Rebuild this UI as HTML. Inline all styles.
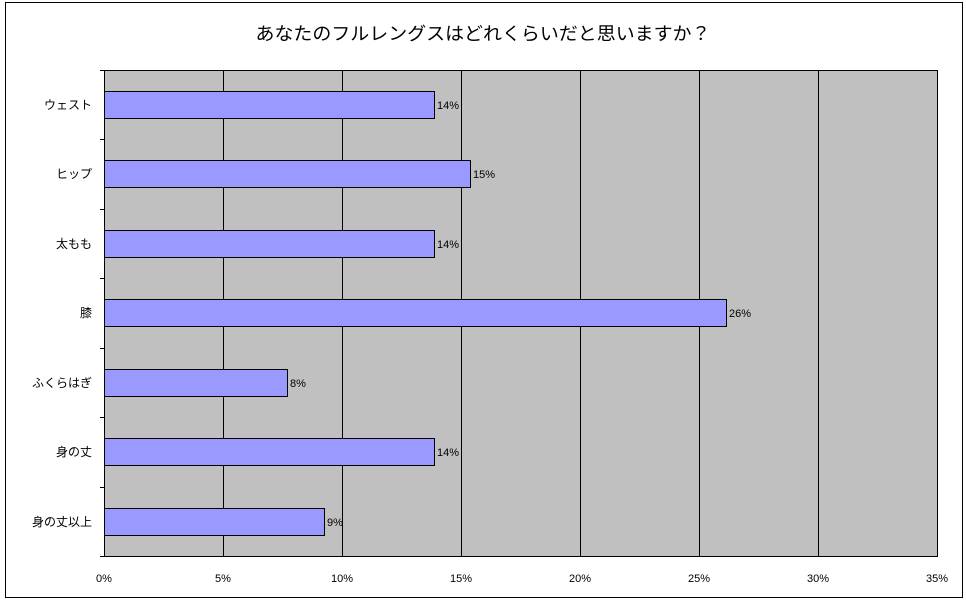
<!DOCTYPE html>
<html><head><meta charset="utf-8"><style>body{margin:0;background:#fff}svg{display:block}</style></head><body>
<svg width="966" height="603" xmlns="http://www.w3.org/2000/svg" font-family="'Liberation Sans','Noto Sans CJK JP',sans-serif">
<rect x="5.5" y="2.5" width="957" height="595" fill="#fff" stroke="#000"/>
<text x="483" y="40" font-size="18" text-anchor="middle" textLength="455" lengthAdjust="spacingAndGlyphs">あなたのフルレングスはどれくらいだと思いますか？</text>
<rect x="104.5" y="70.5" width="833" height="486" fill="#c0c0c0" stroke="#000"/>
<g stroke="#000">
<line x1="223.5" y1="70" x2="223.5" y2="556"/><line x1="342.5" y1="70" x2="342.5" y2="556"/><line x1="461.5" y1="70" x2="461.5" y2="556"/><line x1="580.5" y1="70" x2="580.5" y2="556"/><line x1="699.5" y1="70" x2="699.5" y2="556"/><line x1="818.5" y1="70" x2="818.5" y2="556"/>
<line x1="100" y1="70.5" x2="104" y2="70.5"/><line x1="100" y1="139.5" x2="104" y2="139.5"/><line x1="100" y1="209.5" x2="104" y2="209.5"/><line x1="100" y1="278.5" x2="104" y2="278.5"/><line x1="100" y1="348.5" x2="104" y2="348.5"/><line x1="100" y1="417.5" x2="104" y2="417.5"/><line x1="100" y1="487.5" x2="104" y2="487.5"/><line x1="100" y1="556.5" x2="104" y2="556.5"/>
</g>
<g fill="#9999ff" stroke="#000">
<rect x="104.5" y="91.5" width="330" height="27"/>
<rect x="104.5" y="160.5" width="366" height="27"/>
<rect x="104.5" y="230.5" width="330" height="27"/>
<rect x="104.5" y="299.5" width="622" height="27"/>
<rect x="104.5" y="369.5" width="183" height="27"/>
<rect x="104.5" y="438.5" width="330" height="27"/>
<rect x="104.5" y="508.5" width="220" height="27"/>
</g>
<g font-size="11">
<text x="437" y="109">14%</text><text x="473" y="178">15%</text><text x="437" y="248">14%</text><text x="729" y="317">26%</text><text x="290" y="387">8%</text><text x="437" y="456">14%</text><text x="327" y="526">9%</text>
</g>
<g font-size="12" text-anchor="end">
<text x="92" y="109">ウェスト</text><text x="92" y="178">ヒップ</text><text x="92" y="248">太もも</text><text x="92" y="317">膝</text><text x="92" y="387">ふくらはぎ</text><text x="92" y="456">身の丈</text><text x="92" y="526">身の丈以上</text>
</g>
<g font-size="11" text-anchor="middle">
<text x="104" y="582">0%</text><text x="223" y="582">5%</text><text x="342" y="582">10%</text><text x="461" y="582">15%</text><text x="580" y="582">20%</text><text x="699" y="582">25%</text><text x="818" y="582">30%</text><text x="937" y="582">35%</text>
</g>
</svg>
</body></html>
